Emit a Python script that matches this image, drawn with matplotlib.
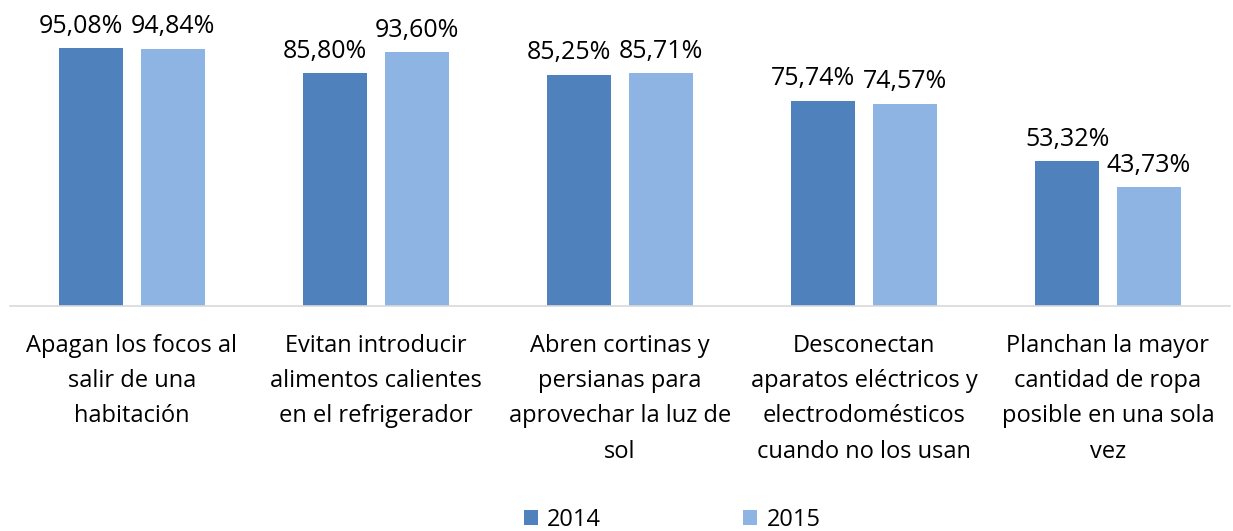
import numpy as np
import matplotlib.pyplot as plt

plt.rcParams['font.family'] = ['Open Sans', 'DejaVu Sans']

categories = ['Apagan los focos al\nsalir de una\nhabitación',
              'Evitan introducir\nalimentos calientes\nen el refrigerador',
              'Abren cortinas y\npersianas para\naprovechar la luz de\nsol',
              'Desconectan\naparatos eléctricos y\nelectrodomésticos\ncuando no los usan',
              'Planchan la mayor\ncantidad de ropa\nposible en una sola\nvez']
v2014 = [95.08, 85.80, 85.25, 75.74, 53.32]
v2015 = [94.84, 93.60, 85.71, 74.57, 43.73]
series = ['2014', '2015']

fig = plt.figure(figsize=(12.33, 5.31), dpi=100)
ax = fig.add_axes([10/1233, 225/531, 1220/1233, 306/531])

x = np.arange(len(categories))
w = 0.265
gap = 0.07
b1 = ax.bar(x - (w + gap)/2, v2014, w, color='#4f81bd', label=series[0])
b2 = ax.bar(x + (w + gap)/2, v2015, w, color='#8eb4e3', label=series[1])

labels = []
for bars, vals in [(b1, v2014), (b2, v2015)]:
    row = []
    for b, v in zip(bars, vals):
        t = ax.text(b.get_x() + b.get_width()/2, v + 3.5,
                    ('%.2f' % v).replace('.', ',') + '%',
                    ha='center', va='bottom', fontsize=18)
        row.append(t)
    labels.append(row)

ax.set_xlim(-0.5, 4.5)
ax.set_ylim(0, 112.8)
ax.set_yticks([])
ax.set_xticks(x)
ax.set_xticklabels(categories, fontsize=17, linespacing=1.63)
ax.tick_params(axis='x', length=0, pad=20)
for s in ['top', 'right', 'left']:
    ax.spines[s].set_visible(False)
ax.spines['bottom'].set_color('#d9d9d9')
ax.spines['bottom'].set_linewidth(1.2)

# push the left label aside when the two labels of a group really collide
r = fig.canvas.get_renderer()
for t1, t2 in zip(labels[0], labels[1]):
    e1 = t1.get_window_extent(r)
    e2 = t2.get_window_extent(r)
    if e1.y0 < e2.y1 and e2.y0 < e1.y1 and e1.x1 > e2.x0 + 2:
        shift = e1.x1 - (e2.x0 - 8)
        dx = ax.transData.inverted().transform((shift, 0))[0] - ax.transData.inverted().transform((0, 0))[0]
        xx, yy = t1.get_position()
        t1.set_position((xx - dx, yy))

fig.legend(loc='lower center', ncol=2, frameon=False, fontsize=17,
           bbox_to_anchor=(0.545, -0.042), handlelength=0.6, handleheight=0.6,
           columnspacing=6.0, handletextpad=0.4)

fig.savefig('out.png', dpi=100)
